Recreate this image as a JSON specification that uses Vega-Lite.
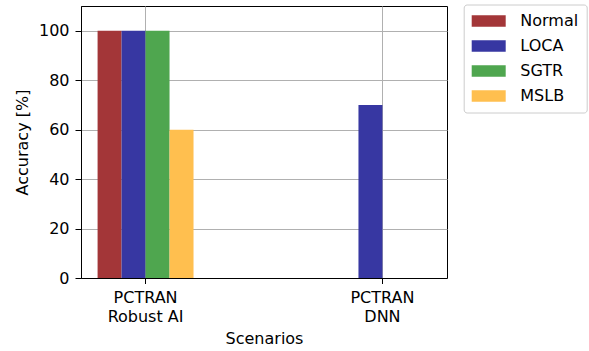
{
  "$schema": "https://vega.github.io/schema/vega-lite/v6.json",
  "width": 366,
  "height": 272,
  "autosize": {"type": "none"},
  "padding": {"left": 81, "top": 6, "right": 142, "bottom": 73},
  "background": "white",
  "data": {
    "values": [
      {"model": "PCTRAN\nRobust AI", "scenario": "Normal", "accuracy": 100},
      {"model": "PCTRAN\nRobust AI", "scenario": "LOCA", "accuracy": 100},
      {"model": "PCTRAN\nRobust AI", "scenario": "SGTR", "accuracy": 100},
      {"model": "PCTRAN\nRobust AI", "scenario": "MSLB", "accuracy": 60},
      {"model": "PCTRAN\nDNN", "scenario": "Normal", "accuracy": 0},
      {"model": "PCTRAN\nDNN", "scenario": "LOCA", "accuracy": 70},
      {"model": "PCTRAN\nDNN", "scenario": "SGTR", "accuracy": 0},
      {"model": "PCTRAN\nDNN", "scenario": "MSLB", "accuracy": 0}
    ]
  },
  "mark": {"type": "bar"},
  "encoding": {
    "x": {
      "field": "model",
      "type": "nominal",
      "sort": ["PCTRAN\nRobust AI", "PCTRAN\nDNN"],
      "title": "Scenarios",
      "scale": {"paddingInner": 0.595, "paddingOuter": 0.07},
      "axis": {
        "labelAngle": 0,
        "labelExpr": "split(datum.label, '\\n')",
        "labelLineHeight": 19.5,
        "bandPosition": 0.5,
        "tickSize": 5.5,
        "labelPadding": 5.5,
        "titlePadding": 6
      }
    },
    "xOffset": {
      "field": "scenario",
      "type": "nominal",
      "sort": ["Normal", "LOCA", "SGTR", "MSLB"],
      "scale": {"paddingInner": 0, "paddingOuter": 0}
    },
    "y": {
      "field": "accuracy",
      "type": "quantitative",
      "title": "Accuracy [%]",
      "scale": {"domain": [0, 110], "nice": false},
      "axis": {
        "values": [0, 20, 40, 60, 80, 100],
        "tickSize": 6,
        "labelPadding": 6,
        "titlePadding": 8
      }
    },
    "color": {
      "field": "scenario",
      "type": "nominal",
      "sort": ["Normal", "LOCA", "SGTR", "MSLB"],
      "scale": {
        "domain": ["Normal", "LOCA", "SGTR", "MSLB"],
        "range": ["#a33638", "#3737a2", "#4fa64f", "#ffbf4f"]
      },
      "legend": {
        "title": null,
        "orient": "none",
        "legendX": 382.7,
        "legendY": -1.5,
        "symbolType": "M-2,-0.69H2V0.69H-2Z",
        "symbolSize": 289,
        "symbolOffset": 8.5,
        "symbolStrokeWidth": 0,
        "symbolOpacity": 1,
        "labelFont": "DejaVu Sans",
        "labelFontSize": 16,
        "labelColor": "black",
        "labelOffset": 23.1,
        "padding": 8,
        "rowPadding": 8,
        "strokeColor": "#cccccc",
        "fillColor": "white",
        "cornerRadius": 3
      }
    }
  },
  "config": {
    "font": "DejaVu Sans",
    "view": {"stroke": "black", "strokeWidth": 1},
    "axis": {
      "labelFont": "DejaVu Sans",
      "labelFontSize": 16,
      "titleFont": "DejaVu Sans",
      "titleFontSize": 16,
      "titleFontWeight": "normal",
      "labelColor": "black",
      "titleColor": "black",
      "domainColor": "black",
      "tickColor": "black",
      "gridColor": "#b0b0b0",
      "gridWidth": 1,
      "grid": true,
      "zindex": 1
    }
  }
}
